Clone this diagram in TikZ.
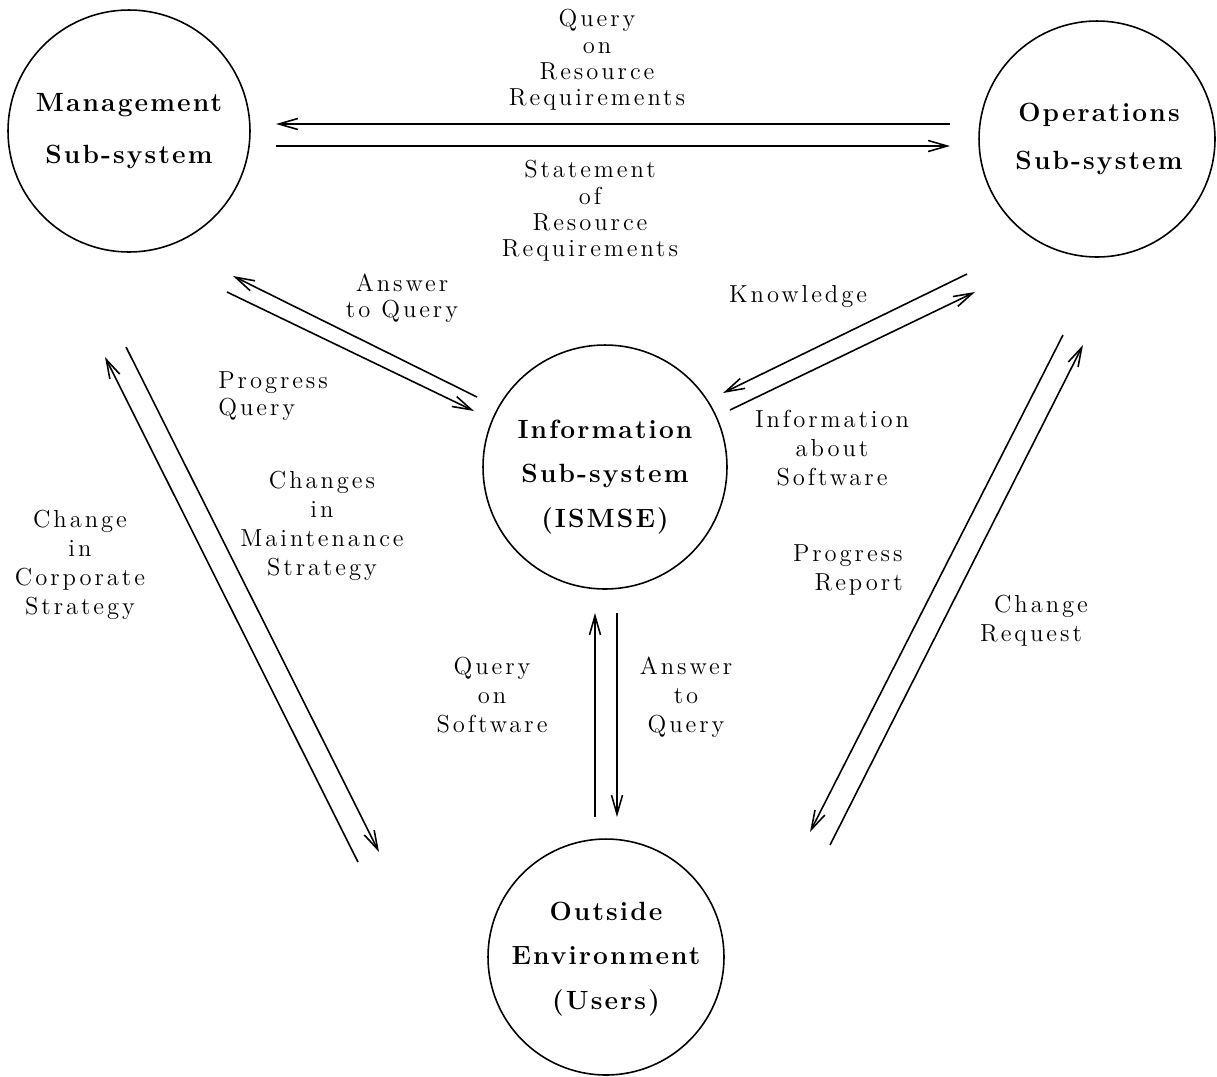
\documentclass[tikz,border=0pt]{standalone}
\usepackage{fontspec}
\setmainfont{Latin Modern Roman}[LetterSpace=12]
\newfontfamily\sysfont{Latin Modern Roman}[LetterSpace=8]
\usetikzlibrary{arrows.meta}
\begin{document}
\begin{tikzpicture}[x=0.02cm,y=-0.02cm,
  sys/.style={circle,draw,line width=0.9pt,inner sep=0pt},
  systext/.style={align=center,inner sep=0pt},
  flow/.style={line width=0.9pt,-{Straight Barb[length=0.38cm,width=0.22cm,line width=0.9pt]}},
  lbl/.style={align=center,inner sep=0pt,font=\fontsize{14}{15}\selectfont},
  lblwide/.style={lbl,font=\fontsize{14}{16.5}\selectfont}]
\useasboundingbox (0,0) rectangle (1217,1076);

% the four sub-systems
\node[sys,minimum size=4.84cm] (mgmt) at (129,131) {};
\node[sys,minimum size=4.72cm] (ops)  at (1097,139) {};
\node[sys,minimum size=4.88cm] (info) at (605,467) {};
\node[sys,minimum size=4.72cm] (env)  at (606,957) {};

\node[systext,font=\fontsize{15}{30}\sysfont\bfseries] (mgmtT) at (129,131) {Management\\Sub-system};
\node[systext,font=\fontsize{15}{27}\sysfont\bfseries] (opsT) at (1099,139) {Operations\\Sub-system};
\node[systext,font=\fontsize{15}{25.5}\sysfont\bfseries] (infoT) at (605,477) {Information\\Sub-system\\(ISMSE)};
\node[systext,font=\fontsize{15}{25.5}\sysfont\bfseries] (envT) at (606,959) {Outside\\Environment\\(Users)};

% end points of the flows
\coordinate (a1s) at (950,124);  \coordinate (a1e) at (276,124);
\coordinate (a2s) at (276,146);  \coordinate (a2e) at (950,146);
\coordinate (b1s) at (477,397);  \coordinate (b1e) at (233,276);
\coordinate (b2s) at (227,292);  \coordinate (b2e) at (474,411);
\coordinate (c1s) at (967,274);  \coordinate (c1e) at (723,393);
\coordinate (c2s) at (730,410);  \coordinate (c2e) at (975,292);
\coordinate (d1s) at (358,862);  \coordinate (d1e) at (105,357);
\coordinate (d2s) at (126,347);  \coordinate (d2e) at (379,852);
\coordinate (e1s) at (595,817);  \coordinate (e1e) at (595,613);
\coordinate (e2s) at (617,613);  \coordinate (e2e) at (617,817);
\coordinate (f1s) at (1063,335); \coordinate (f1e) at (810,832);
\coordinate (f2s) at (830,845);  \coordinate (f2e) at (1083,345);

\draw[flow] (a1s) -- (a1e);
\draw[flow] (a2s) -- (a2e);
\draw[flow] (b1s) -- (b1e);
\draw[flow] (b2s) -- (b2e);
\draw[flow] (c1s) -- (c1e);
\draw[flow] (c2s) -- (c2e);
\draw[flow] (d1s) -- (d1e);
\draw[flow] (d2s) -- (d2e);
\draw[flow] (e1s) -- (e1e);
\draw[flow] (e2s) -- (e2e);
\draw[flow] (f1s) -- (f1e);
\draw[flow] (f2s) -- (f2e);

% flow labels
\node[lbl] (l1) at (597,60) {Query\\on\\Resource\\Requirements};
\node[lbl] (l2) at (590,211) {Statement\\of\\Resource\\Requirements};
\node[lbl] (l3) at (402,298) {Answer\\to Query};
\node[lbl,align=left,anchor=west] (l4) at (218,396) {Progress\\Query};
\node[lbl] (l5) at (798,296) {Knowledge};
\node[lblwide] (l6) at (832,448) {Information\\about\\Software};
\node[lblwide,align=right,anchor=east] (l7) at (903,570) {Progress\\Report};
\node[lblwide] (l8) at (1031,621) {\hspace*{0.4cm}Change\\Request};
\node[lblwide] (l9) at (492,695) {Query\\on\\Software};
\node[lblwide] (l10) at (686,697) {Answer\\to\\Query};
\node[lblwide] (l11) at (322,526) {Changes\\in\\Maintenance\\Strategy};
\node[lblwide] (l12) at (80,565) {Change\\in\\Corporate\\Strategy};
\end{tikzpicture}
\end{document}
